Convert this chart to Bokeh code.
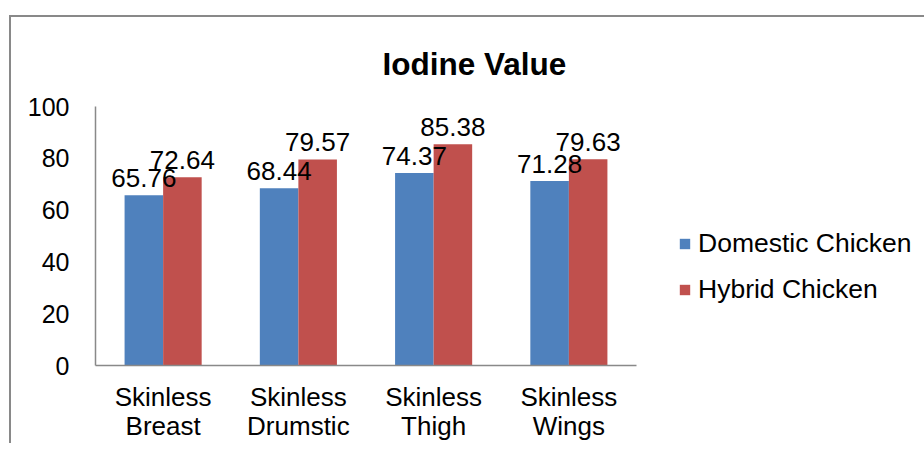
from bokeh.plotting import figure
from bokeh.models import (ColumnDataSource, FactorRange, Legend, LegendItem,
                          SingleIntervalTicker)
from bokeh.transform import dodge
from bokeh.core.properties import value
from bokeh.embed import file_html
from bokeh.resources import INLINE

categories = ["Skinless\nBreast", "Skinless\nDrumstic", "Skinless\nThigh", "Skinless\nWings"]
domestic = [65.76, 68.44, 74.37, 71.28]
hybrid = [72.64, 79.57, 85.38, 79.63]
series_names = ["Domestic Chicken", "Hybrid Chicken"]
title_text = "Iodine Value"

FONT = "Liberation Sans"
BLUE = "#4F81BD"
RED = "#C0504D"
GRAY = "#898989"

src = ColumnDataSource(dict(
    cat=categories,
    dom=domestic,
    hyb=hybrid,
    dom_lbl=[f"{v:.2f}" for v in domestic],
    hyb_lbl=[f"{v:.2f}" for v in hybrid],
))

p = figure(frame_width=541, frame_height=259, x_range=FactorRange(*categories, range_padding=0),
           y_range=(0, 100), output_backend="svg", toolbar_location=None,
           min_border_left=84, min_border_right=0, min_border_top=89, min_border_bottom=77,
           title=title_text)
p.styles = {"border-left": f"2px solid {GRAY}", "border-top": f"2px solid {GRAY}",
            "margin-left": "9px", "margin-top": "15px"}
p.outline_line_color = None
p.xgrid.visible = False
p.ygrid.visible = False
p.background_fill_color = "white"
p.border_fill_color = "white"

p.title.text_font = FONT
p.title.text_font_size = "31.5px"
p.title.text_font_style = "bold"
p.title.text_color = "black"
p.title.align = "left"
p.title.offset = 287
p.title.standoff = 50

bw = 0.285
r1 = p.vbar(x=dodge("cat", -bw / 2, range=p.x_range), top="dom", width=bw, source=src,
            fill_color=BLUE, line_color=None)
r2 = p.vbar(x=dodge("cat", bw / 2, range=p.x_range), top="hyb", width=bw, source=src,
            fill_color=RED, line_color=None)

p.text(x=dodge("cat", -bw / 2, range=p.x_range), y="dom", text="dom_lbl", source=src,
       text_font=value(FONT), text_font_size="26px", text_align="center",
       text_baseline="alphabetic", y_offset=-17, text_color="black")
p.text(x=dodge("cat", bw / 2, range=p.x_range), y="hyb", text="hyb_lbl", source=src,
       text_font=value(FONT), text_font_size="26px", text_align="center",
       text_baseline="alphabetic", y_offset=-17, text_color="black")

# axes
p.yaxis.ticker = SingleIntervalTicker(interval=20)
for ax in (p.xaxis[0], p.yaxis[0]):
    ax.axis_line_color = GRAY
    ax.axis_line_width = 1.5
    ax.major_tick_line_color = None
    ax.minor_tick_line_color = None
    ax.major_tick_out = 0
    ax.major_tick_in = 0
    ax.major_label_text_font = FONT
    ax.major_label_text_color = "black"
p.yaxis.major_label_text_font_size = "25px"
p.yaxis.major_label_standoff = 22
p.xaxis.major_label_standoff = 16
p.xaxis.major_label_text_font_size = "26px"
p.xaxis.major_label_text_line_height = 0.98

# legend
legend = Legend(items=[LegendItem(label=series_names[0], renderers=[r1]),
                       LegendItem(label=series_names[1], renderers=[r2])],
                location=(42, 60), orientation="vertical",
                glyph_width=13, glyph_height=13, label_height=30, spacing=15,
                label_standoff=7, padding=0, margin=0,
                label_text_font=FONT, label_text_font_size="26.5px", label_text_color="black",
                border_line_color=None, background_fill_alpha=0)
p.add_layout(legend, "right")

open("out.html", "w").write(file_html(p, INLINE))
